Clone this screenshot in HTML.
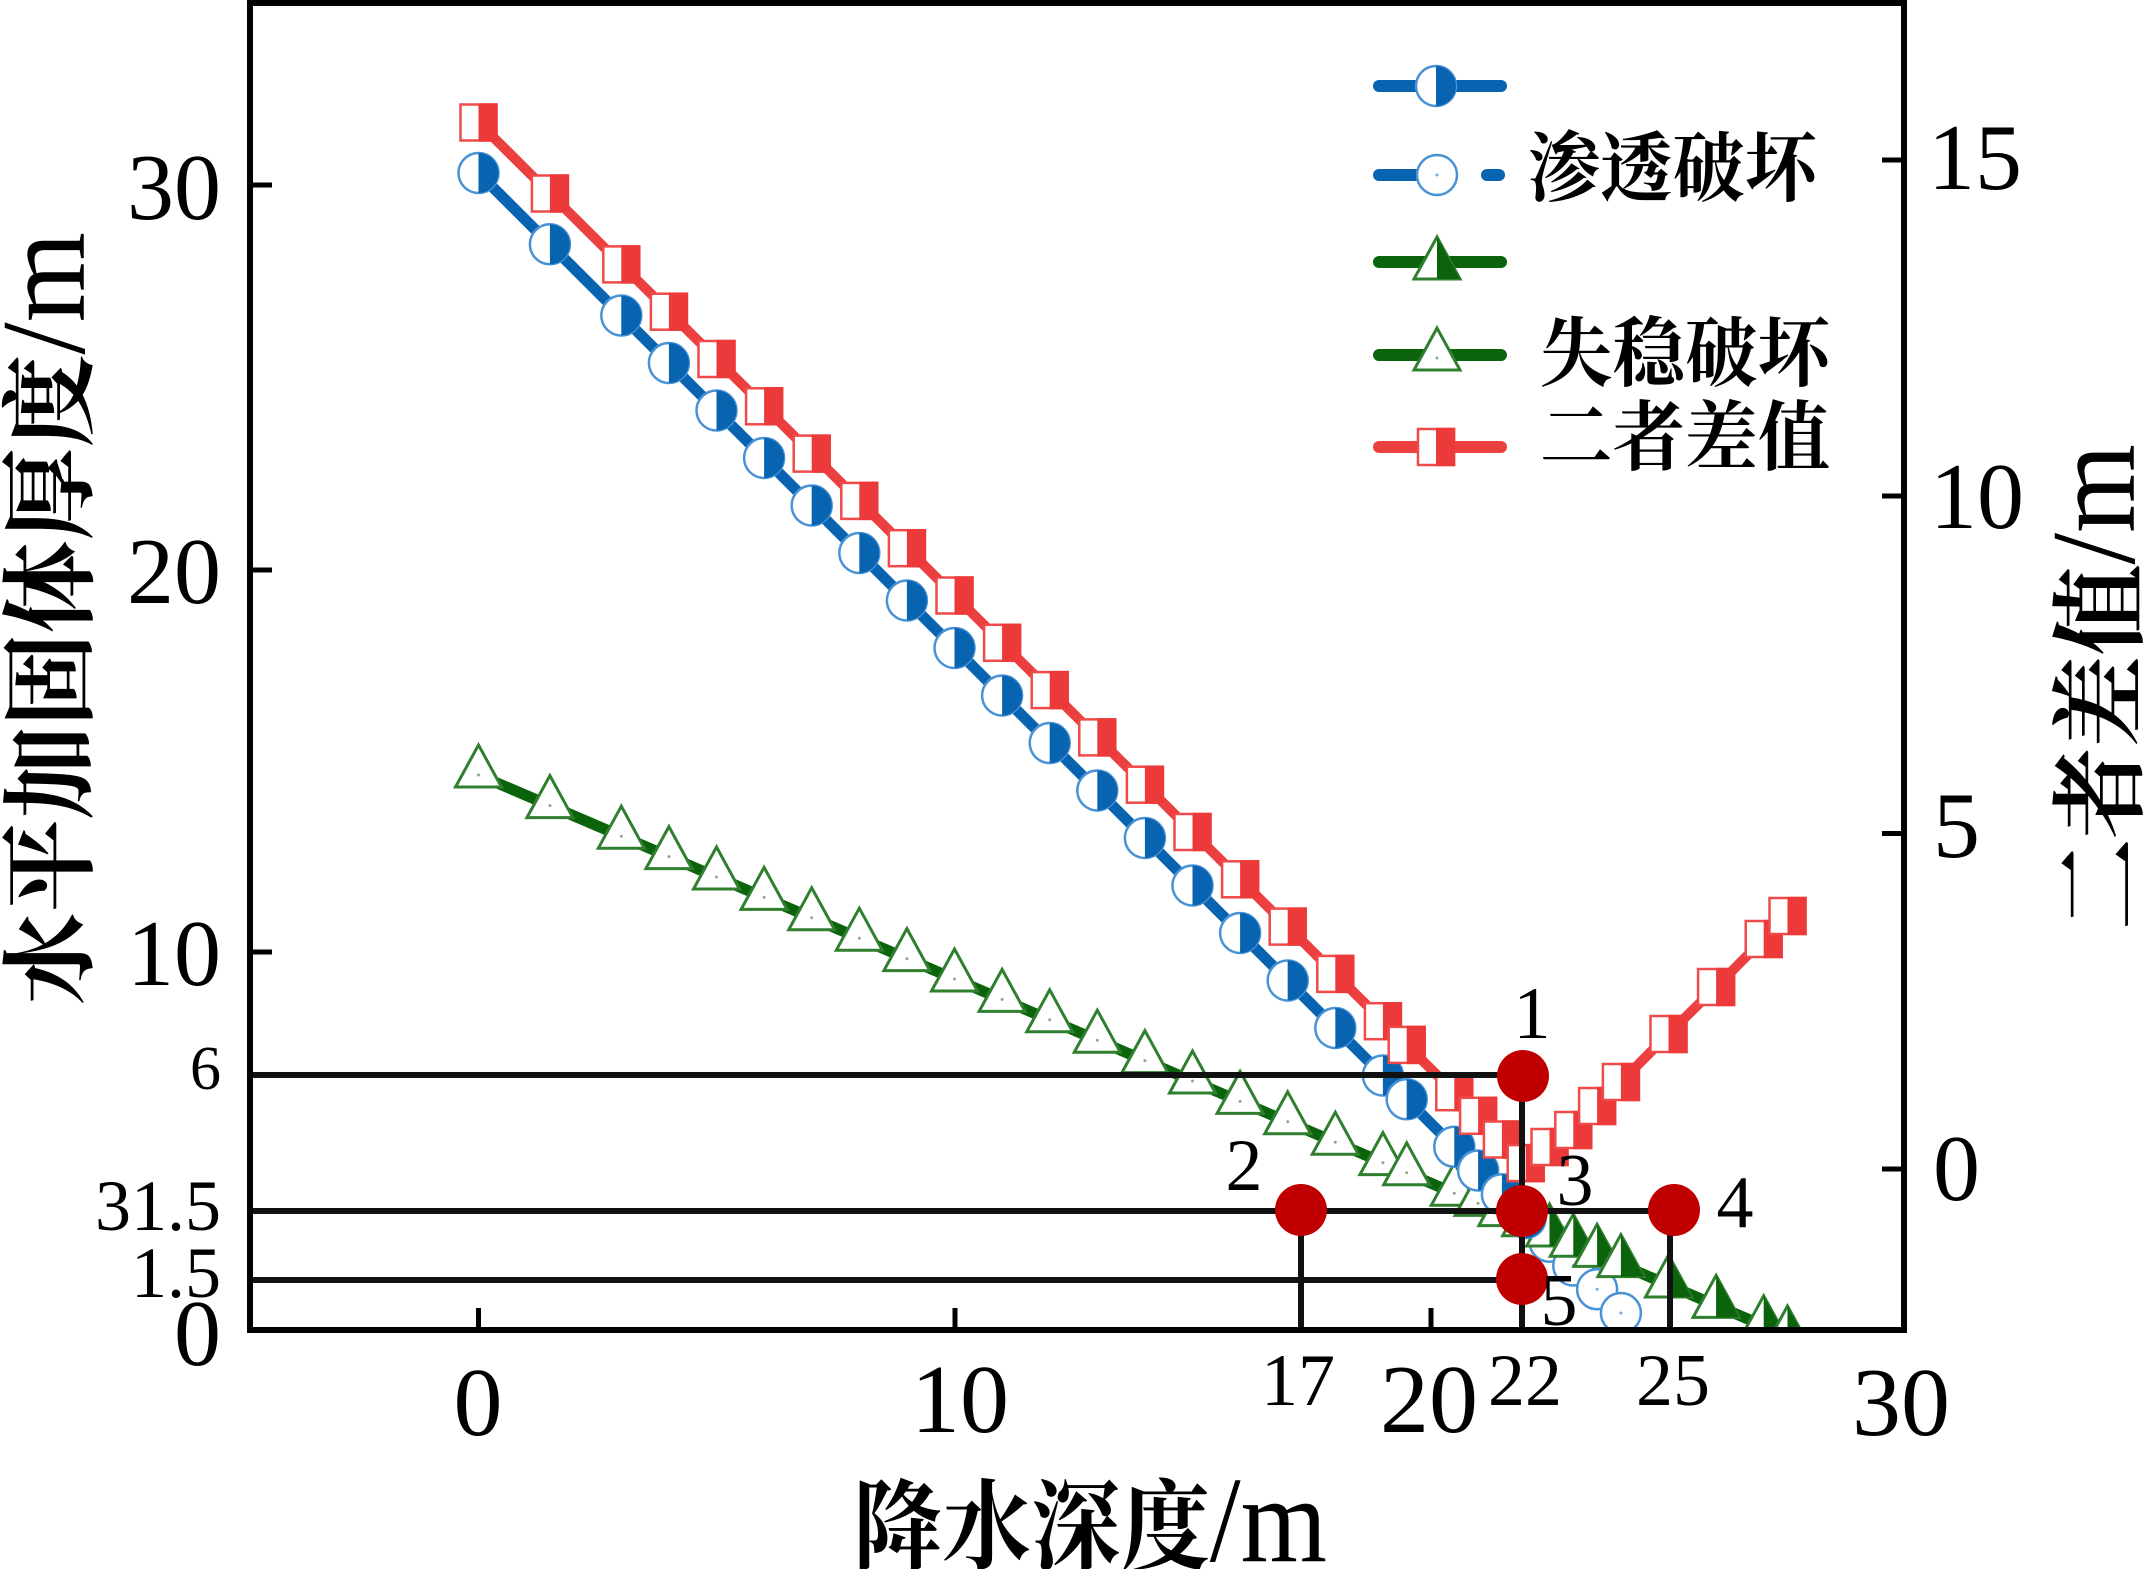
<!DOCTYPE html>
<html>
<head>
<meta charset="utf-8">
<style>
  html,body{margin:0;padding:0;background:#fff;}
  svg{display:block;}
  .num{font-family:"Liberation Serif","Noto Serif CJK SC",serif;fill:#000;}
  .cjk{font-family:"Liberation Serif","Noto Serif CJK SC",serif;fill:#000;}
  .b{font-weight:bold;}
</style>
</head>
<body>
<svg width="2143" height="1569" viewBox="0 0 2143 1569" xmlns="http://www.w3.org/2000/svg">
  <defs>
    <clipPath id="plot"><rect x="250" y="3" width="1654" height="1327"/></clipPath>
    <g id="bh">
      <circle r="20" fill="#fff" stroke="#4a92d6" stroke-width="2.5"/>
      <path d="M0,-20A20,20 0 0 1 0,20Z" fill="#0864b1"/>
    </g>
    <g id="bo">
      <circle r="20" fill="#fff" stroke="#4a92d6" stroke-width="2.5"/>
      <circle r="1.5" fill="#7aa8d8"/>
    </g>
    <g id="rs">
      <rect x="-18" y="-18" width="36" height="36" fill="#fff" stroke="#f04a4a" stroke-width="2.5"/>
      <rect x="0" y="-19.2" width="19.2" height="38.4" fill="#ec3a3a"/>
    </g>
    <g id="go">
      <path d="M0,-30L23,12H-23Z" fill="#fff" stroke="#2f7f2f" stroke-width="3"/>
      <circle r="1.5" fill="#8aa88a"/>
    </g>
    <g id="gh">
      <path d="M0,-30L23,12H-23Z" fill="#fff" stroke="#2f7f2f" stroke-width="3"/>
      <path d="M0,-30L23,12H0Z" fill="#0b640b"/>
    </g>
  </defs>

  <rect width="2143" height="1569" fill="#fff"/>

  <g clip-path="url(#plot)">
    <use href="#bo" x="1549.5" y="1241.8"/>
    <use href="#bo" x="1573.3" y="1265.5"/>
    <use href="#bo" x="1597.1" y="1289.3"/>
    <use href="#bo" x="1620.9" y="1313"/>

    <polyline fill="none" stroke="#0b640b" stroke-width="11" stroke-linejoin="round"
      points="478.5,775 549.9,805.6 621.3,836.2 668.9,856.6 716.5,877 764.1,897.4 811.7,917.8 859.3,938.2 906.9,958.6 954.5,979 1002.1,999.4 1049.7,1019.8 1097.3,1040.2 1144.9,1060.6 1192.5,1081 1240.1,1101.4 1287.7,1121.8 1335.3,1142.2 1382.9,1162.6 1406.7,1172.8 1454.3,1193.2 1478.1,1203.4 1501.9,1213.6 1525.7,1223.8 1549.5,1234 1573.3,1244.2 1597.1,1254.4 1620.9,1264.6 1668.5,1285 1716.1,1305.4 1763.7,1325.8 1787.5,1336"/>
    <use href="#go" x="478.5" y="775"/>
    <use href="#go" x="549.9" y="805.6"/>
    <use href="#go" x="621.3" y="836.2"/>
    <use href="#go" x="668.9" y="856.6"/>
    <use href="#go" x="716.5" y="877"/>
    <use href="#go" x="764.1" y="897.4"/>
    <use href="#go" x="811.7" y="917.8"/>
    <use href="#go" x="859.3" y="938.2"/>
    <use href="#go" x="906.9" y="958.6"/>
    <use href="#go" x="954.5" y="979"/>
    <use href="#go" x="1002.1" y="999.4"/>
    <use href="#go" x="1049.7" y="1019.8"/>
    <use href="#go" x="1097.3" y="1040.2"/>
    <use href="#go" x="1144.9" y="1060.6"/>
    <use href="#go" x="1192.5" y="1081"/>
    <use href="#go" x="1240.1" y="1101.4"/>
    <use href="#go" x="1287.7" y="1121.8"/>
    <use href="#go" x="1335.3" y="1142.2"/>
    <use href="#go" x="1382.9" y="1162.6"/>
    <use href="#go" x="1406.7" y="1172.8"/>
    <use href="#go" x="1454.3" y="1193.2"/>
    <use href="#go" x="1478.1" y="1203.4"/>
    <use href="#go" x="1501.9" y="1213.6"/>
    <use href="#go" x="1525.7" y="1223.8"/>
    <use href="#gh" x="1549.5" y="1234"/>
    <use href="#gh" x="1573.3" y="1244.2"/>
    <use href="#gh" x="1597.1" y="1254.4"/>
    <use href="#gh" x="1620.9" y="1264.6"/>
    <use href="#gh" x="1668.5" y="1285"/>
    <use href="#gh" x="1716.1" y="1305.4"/>
    <use href="#gh" x="1763.7" y="1325.8"/>
    <use href="#gh" x="1787.5" y="1336"/>

    <polyline fill="none" stroke="#0864b1" stroke-width="11" stroke-linejoin="round"
      points="478.5,173 549.9,244.3 621.3,315.5 668.9,363 716.5,410.5 764.1,458 811.7,505.5 859.3,553 906.9,600.5 954.5,648 1002.1,695.5 1049.7,743 1097.3,790.5 1144.9,838 1192.5,885.5 1240.1,933 1287.7,980.5 1335.3,1028 1382.9,1075.5 1406.7,1099.3 1454.3,1146.8 1478.1,1170.5 1501.9,1194.3 1525.7,1218"/>
    <use href="#bh" x="478.5" y="173"/>
    <use href="#bh" x="549.9" y="244.3"/>
    <use href="#bh" x="621.3" y="315.5"/>
    <use href="#bh" x="668.9" y="363"/>
    <use href="#bh" x="716.5" y="410.5"/>
    <use href="#bh" x="764.1" y="458"/>
    <use href="#bh" x="811.7" y="505.5"/>
    <use href="#bh" x="859.3" y="553"/>
    <use href="#bh" x="906.9" y="600.5"/>
    <use href="#bh" x="954.5" y="648"/>
    <use href="#bh" x="1002.1" y="695.5"/>
    <use href="#bh" x="1049.7" y="743"/>
    <use href="#bh" x="1097.3" y="790.5"/>
    <use href="#bh" x="1144.9" y="838"/>
    <use href="#bh" x="1192.5" y="885.5"/>
    <use href="#bh" x="1240.1" y="933"/>
    <use href="#bh" x="1287.7" y="980.5"/>
    <use href="#bh" x="1335.3" y="1028"/>
    <use href="#bh" x="1382.9" y="1075.5"/>
    <use href="#bh" x="1406.7" y="1099.3"/>
    <use href="#bh" x="1454.3" y="1146.8"/>
    <use href="#bh" x="1478.1" y="1170.5"/>
    <use href="#bh" x="1501.9" y="1194.3"/>
    <use href="#bh" x="1525.7" y="1218"/>

    <polyline fill="none" stroke="#ec3f3f" stroke-width="10" stroke-linejoin="round"
      points="478.5,122.5 549.9,193.5 621.3,264.4 668.9,311.7 716.5,359 764.1,406.3 811.7,453.6 859.3,500.9 906.9,548.2 954.5,595.5 1002.1,642.8 1049.7,690.1 1097.3,737.4 1144.9,784.7 1192.5,832 1240.1,879.3 1287.7,926.6 1335.3,973.9 1382.9,1021.2 1406.7,1044.9 1454.3,1092.2 1478.1,1115.8 1501.9,1139.5 1525.7,1163.1 1549.5,1147 1573.3,1130 1597.1,1106 1620.9,1082 1668.5,1034 1716.1,987 1763.7,939 1787.5,916"/>
    <use href="#rs" x="478.5" y="122.5"/>
    <use href="#rs" x="549.9" y="193.5"/>
    <use href="#rs" x="621.3" y="264.4"/>
    <use href="#rs" x="668.9" y="311.7"/>
    <use href="#rs" x="716.5" y="359"/>
    <use href="#rs" x="764.1" y="406.3"/>
    <use href="#rs" x="811.7" y="453.6"/>
    <use href="#rs" x="859.3" y="500.9"/>
    <use href="#rs" x="906.9" y="548.2"/>
    <use href="#rs" x="954.5" y="595.5"/>
    <use href="#rs" x="1002.1" y="642.8"/>
    <use href="#rs" x="1049.7" y="690.1"/>
    <use href="#rs" x="1097.3" y="737.4"/>
    <use href="#rs" x="1144.9" y="784.7"/>
    <use href="#rs" x="1192.5" y="832"/>
    <use href="#rs" x="1240.1" y="879.3"/>
    <use href="#rs" x="1287.7" y="926.6"/>
    <use href="#rs" x="1335.3" y="973.9"/>
    <use href="#rs" x="1382.9" y="1021.2"/>
    <use href="#rs" x="1406.7" y="1044.9"/>
    <use href="#rs" x="1454.3" y="1092.2"/>
    <use href="#rs" x="1478.1" y="1115.8"/>
    <use href="#rs" x="1501.9" y="1139.5"/>
    <use href="#rs" x="1525.7" y="1163.1"/>
    <use href="#rs" x="1549.5" y="1147"/>
    <use href="#rs" x="1573.3" y="1130"/>
    <use href="#rs" x="1597.1" y="1106"/>
    <use href="#rs" x="1620.9" y="1082"/>
    <use href="#rs" x="1668.5" y="1034"/>
    <use href="#rs" x="1716.1" y="987"/>
    <use href="#rs" x="1763.7" y="939"/>
    <use href="#rs" x="1787.5" y="916"/>
  </g>

  <g stroke="#111" stroke-width="6" fill="none">
    <line x1="250" y1="1075" x2="1522" y2="1075"/>
    <line x1="250" y1="1211" x2="1673" y2="1211"/>
    <line x1="250" y1="1280" x2="1522" y2="1280"/>
    <line x1="1301" y1="1211" x2="1301" y2="1330"/>
    <line x1="1522" y1="1076" x2="1522" y2="1330"/>
    <line x1="1670" y1="1211" x2="1670" y2="1330"/>
  </g>
  <g fill="#c00000">
    <circle cx="1523" cy="1076" r="26"/>
    <circle cx="1301" cy="1210" r="26"/>
    <circle cx="1522" cy="1211" r="26"/>
    <circle cx="1674" cy="1210" r="26"/>
    <circle cx="1522" cy="1279" r="26"/>
  </g>

  <rect x="250" y="3" width="1654" height="1327" fill="none" stroke="#000" stroke-width="6"/>
  <g stroke="#000" stroke-width="5">
    <line x1="250" y1="185" x2="272" y2="185"/>
    <line x1="250" y1="570" x2="272" y2="570"/>
    <line x1="250" y1="952" x2="272" y2="952"/>
    <line x1="1882" y1="160" x2="1904" y2="160"/>
    <line x1="1882" y1="496" x2="1904" y2="496"/>
    <line x1="1882" y1="833.5" x2="1904" y2="833.5"/>
    <line x1="1882" y1="1169" x2="1904" y2="1169"/>
    <line x1="478.5" y1="1330" x2="478.5" y2="1308"/>
    <line x1="955" y1="1330" x2="955" y2="1308"/>
    <line x1="1431" y1="1330" x2="1431" y2="1308"/>
  </g>

  <g class="num" text-anchor="end">
    <text x="221" y="219" font-size="94">30</text>
    <text x="221" y="603" font-size="94">20</text>
    <text x="221" y="985" font-size="94">10</text>
    <text x="221" y="1089" font-size="62">6</text>
    <text x="221" y="1230" font-size="72">31.5</text>
    <text x="221" y="1297" font-size="72">1.5</text>
    <text x="221" y="1365" font-size="94">0</text>
  </g>
  <g class="num" text-anchor="start" font-size="94">
    <text x="1928" y="189">15</text>
    <text x="1930" y="528">10</text>
    <text x="1933" y="857">5</text>
    <text x="1933" y="1200">0</text>
  </g>
  <g class="num" text-anchor="middle">
    <text x="478" y="1435" font-size="98">0</text>
    <text x="960" y="1432" font-size="98">10</text>
    <text x="1429" y="1432" font-size="98">20</text>
    <text x="1901" y="1435" font-size="98">30</text>
    <text x="1298" y="1405" font-size="74">17</text>
    <text x="1525" y="1405" font-size="74">22</text>
    <text x="1673" y="1405" font-size="74">25</text>
  </g>
  <g class="num" text-anchor="middle" font-size="74">
    <text x="1532" y="1038">1</text>
    <text x="1244" y="1190">2</text>
    <text x="1575" y="1205">3</text>
    <text x="1735" y="1227">4</text>
    <text x="1559" y="1325">5</text>
  </g>

  <text class="cjk" transform="translate(84,618.5) rotate(-90)" text-anchor="middle" font-size="96" textLength="773" lengthAdjust="spacingAndGlyphs"><tspan class="b">水平加固体厚度</tspan><tspan font-size="120">/m</tspan></text>
  <text class="cjk" transform="translate(2134,687) rotate(-90)" text-anchor="middle" font-size="96" textLength="486" lengthAdjust="spacingAndGlyphs"><tspan class="b">二者差值</tspan><tspan font-size="120">/m</tspan></text>
  <text class="cjk" x="853" y="1561" font-size="98" textLength="474" lengthAdjust="spacingAndGlyphs"><tspan class="b">降水深度</tspan><tspan font-size="122">/m</tspan></text>

  <g stroke-linecap="round">
    <line x1="1379" y1="86" x2="1501" y2="86" stroke="#0864b1" stroke-width="12"/>
    <line x1="1379" y1="175" x2="1417" y2="175" stroke="#0864b1" stroke-width="12"/>
    <line x1="1487" y1="175" x2="1499" y2="175" stroke="#0864b1" stroke-width="12"/>
    <line x1="1379" y1="262" x2="1501" y2="262" stroke="#0b640b" stroke-width="12"/>
    <line x1="1379" y1="355" x2="1501" y2="355" stroke="#0b640b" stroke-width="12"/>
    <line x1="1379" y1="447" x2="1501" y2="447" stroke="#ec3f3f" stroke-width="12"/>
  </g>
  <use href="#bh" x="1436" y="86"/>
  <use href="#bo" x="1437" y="175"/>
  <use href="#gh" x="1437" y="267"/>
  <use href="#go" x="1437" y="358"/>
  <use href="#rs" x="1436" y="447"/>
  <g class="cjk b" font-size="76">
    <text x="1528" y="195" textLength="289" lengthAdjust="spacingAndGlyphs">渗透破坏</text>
    <text x="1540" y="380" textLength="290" lengthAdjust="spacingAndGlyphs">失稳破坏</text>
    <text x="1540" y="464" textLength="290" lengthAdjust="spacingAndGlyphs">二者差值</text>
  </g>
</svg>
</body>
</html>
